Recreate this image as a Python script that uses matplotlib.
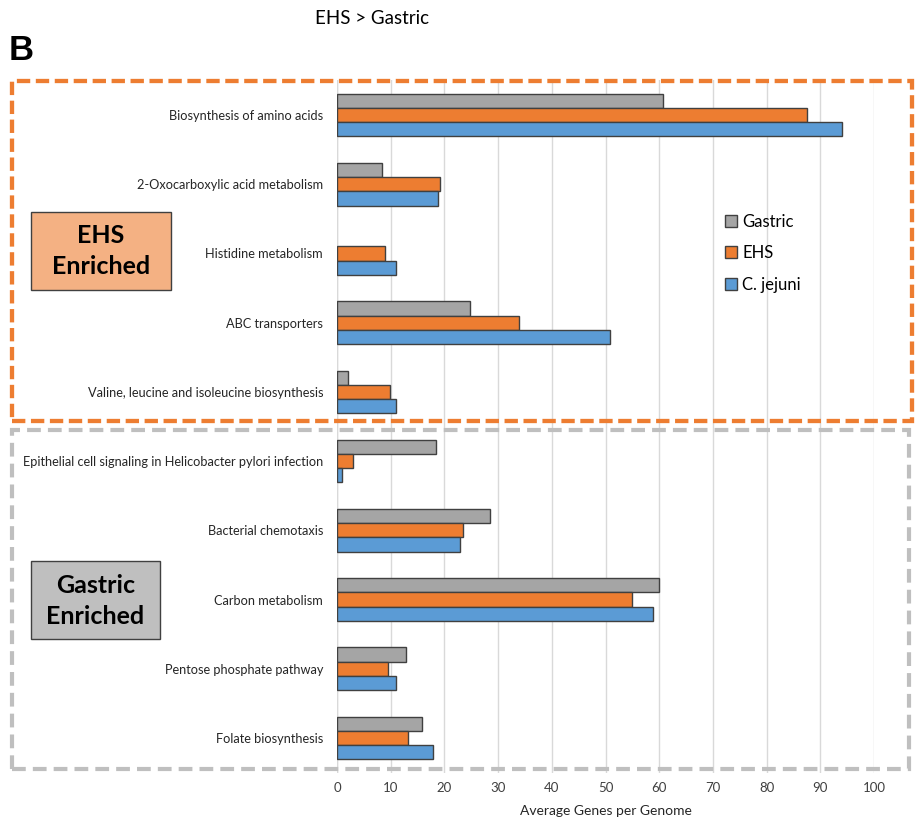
import matplotlib
matplotlib.use("Agg")
import matplotlib.pyplot as plt
from matplotlib.patches import Rectangle, Patch
import numpy as np

plt.rcParams['font.family'] = ['Lato', 'DejaVu Sans']

categories = [
    "Biosynthesis of amino acids",
    "2-Oxocarboxylic acid metabolism",
    "Histidine metabolism",
    "ABC transporters",
    "Valine, leucine and isoleucine biosynthesis",
    "Epithelial cell signaling in Helicobacter pylori infection",
    "Bacterial chemotaxis",
    "Carbon metabolism",
    "Pentose phosphate pathway",
    "Folate biosynthesis",
]
series_names = ["Gastric", "EHS", "C. jejuni"]
gastric = [60.8, 8.3, 0.0, 24.8, 2.1, 18.4, 28.5, 60.0, 12.9, 15.9]
ehs = [87.5, 19.2, 9.0, 33.8, 9.8, 3.0, 23.4, 54.9, 9.5, 13.2]
cjejuni = [94.0, 18.9, 10.9, 50.9, 10.9, 0.9, 22.9, 58.9, 10.9, 17.9]
x_ticks = [0, 10, 20, 30, 40, 50, 60, 70, 80, 90, 100]

colors = ["#A5A5A5", "#ED7D31", "#5B9BD5"]
edge = "#404040"

W, H = 916, 823
fig = plt.figure(figsize=(W / 100, H / 100), dpi=100)

def fx(px):
    return px / W

def fy(py):
    return 1 - py / H

ax = fig.add_axes([fx(337), fy(772.6), fx(874) - fx(337), fy(80.4) - fy(772.6)])

y = np.arange(len(categories))
bh = 0.205
for i, (vals, c, name) in enumerate(zip([gastric, ehs, cjejuni], colors, series_names)):
    edges = [edge if v > 0 else "none" for v in vals]
    ax.barh(y + (i - 1) * bh, vals, height=bh, color=c, edgecolor=edges,
            linewidth=1.0, label=name, zorder=3)

ax.set_ylim(len(categories) - 0.5, -0.5)
ax.set_xlim(0, 100)
ax.set_xticks(x_ticks)
ax.set_xticklabels([str(t) for t in x_ticks], fontsize=9.5, color="#404040")
ax.set_yticks(y)
ax.set_yticklabels(categories, fontsize=9.2, color="#262626")
ax.tick_params(axis="both", length=0)
ax.tick_params(axis="y", pad=10)
ax.tick_params(axis="x", pad=7)
ax.grid(axis="x", color="#D9D9D9", linewidth=1.0, zorder=0)
for s in ax.spines.values():
    s.set_visible(False)
ax.axvline(0, color="#D9D9D9", linewidth=1.0, zorder=1)
ax.set_xlabel("Average Genes per Genome", fontsize=10, color="#262626", labelpad=8)

# legend
handles = [Patch(facecolor=c, edgecolor=edge, linewidth=1.0) for c in colors]
fig.legend(handles, series_names, loc="upper left",
           bbox_to_anchor=(fx(718), fy(207)), frameon=False, fontsize=12,
           handlelength=0.72, handleheight=0.72, handletextpad=0.35,
           labelspacing=0.93, borderaxespad=0)

# dashed group frames
fig.add_artist(Rectangle((fx(11.5), fy(421)), fx(912) - fx(11.5), fy(80.5) - fy(421),
                         transform=fig.transFigure, fill=False, edgecolor="#ED7D31",
                         linewidth=3.1, linestyle=(0, (3.1, 1.3)), capstyle="butt"))
fig.add_artist(Rectangle((fx(11.5), fy(769)), fx(909) - fx(11.5), fy(430) - fy(769),
                         transform=fig.transFigure, fill=False, edgecolor="#BFBFBF",
                         linewidth=3.0, linestyle=(0, (3.3, 1.7)), capstyle="butt"))

# group label boxes
fig.add_artist(Rectangle((fx(31), fy(290)), fx(170.5) - fx(31), fy(212) - fy(290),
                         transform=fig.transFigure, facecolor="#F4B183", edgecolor=edge,
                         linewidth=1.0))
fig.text(fx(101), fy(251), "EHS\nEnriched", ha="center", va="center",
         fontsize=18, fontweight="bold", color="black", linespacing=1.45)
fig.add_artist(Rectangle((fx(31), fy(639)), fx(160) - fx(31), fy(561) - fy(639),
                         transform=fig.transFigure, facecolor="#BFBFBF", edgecolor=edge,
                         linewidth=1.0))
fig.text(fx(95.5), fy(601), "Gastric\nEnriched", ha="center", va="center",
         fontsize=18, fontweight="bold", color="black", linespacing=1.45)

fig.text(fx(372), fy(18), "EHS > Gastric", ha="center", va="center",
         fontsize=13.5, color="black")
fig.text(fx(9), fy(50), "B", ha="left", va="center", fontsize=25,
         fontweight="bold", color="black", family="Liberation Sans")

fig.savefig("out.png", dpi=100)
